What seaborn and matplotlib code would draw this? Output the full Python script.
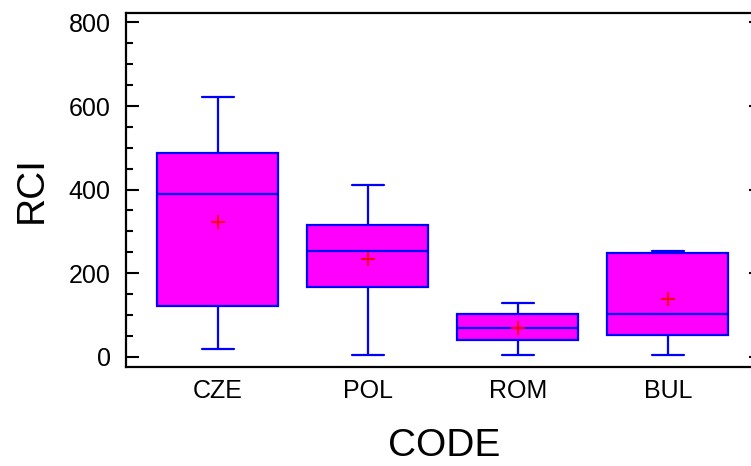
import numpy as np
import pandas as pd
import matplotlib
matplotlib.use("Agg")
import matplotlib.pyplot as plt
import seaborn as sns
from matplotlib.ticker import MultipleLocator

# Summary values (box-and-whisker per country code)
codes = ["CZE", "POL", "ROM", "BUL"]
rci_min = [18, 3, 3, 3]
rci_q1 = [122, 167, 40, 51]
rci_median = [389, 253, 69, 103]
rci_q3 = [487, 315, 103, 248]
rci_max = [621, 410, 129, 252]
rci_mean = [323, 233, 69, 137]

# Five summary points per group reproduce the quartiles exactly (linear percentiles)
rows = []
for i, c in enumerate(codes):
    for v in (rci_min[i], rci_q1[i], rci_median[i], rci_q3[i], rci_max[i]):
        rows.append({"CODE": c, "RCI": v})
df = pd.DataFrame(rows)
means = pd.DataFrame({"CODE": codes, "RCI": rci_mean})

sns.set_style("white")
plt.rcParams["font.family"] = ["Liberation Sans", "DejaVu Sans"]
plt.rcParams["text.color"] = "black"
plt.rcParams["axes.labelcolor"] = "black"
plt.rcParams["xtick.color"] = "black"
plt.rcParams["ytick.color"] = "black"

fig = plt.figure(figsize=(7.51, 4.66), dpi=100)
ax = fig.add_axes([126 / 751, 1 - 366.7 / 466, 636 / 751, 353.4 / 466])

blue = "#0000FF"
sns.boxplot(data=df, x="CODE", y="RCI", order=codes, ax=ax,
            whis=np.inf, width=0.807, color="#FF00FF", saturation=1,
            linecolor=blue, linewidth=1.6, showfliers=False)

# shorten whisker caps
for line in ax.lines:
    xd = line.get_xdata()
    yd = line.get_ydata()
    if len(xd) == 2 and yd[0] == yd[1] and xd[0] != xd[1]:
        w = xd[1] - xd[0]
        if abs(w) < 0.6:
            c = (xd[0] + xd[1]) / 2
            line.set_xdata([c - 0.105, c + 0.105])

sns.scatterplot(data=means, x="CODE", y="RCI", marker="+", color="red",
                s=90, linewidth=1.4, ax=ax, zorder=5)

ax.set_xlim(-0.613, 3.627)
ax.set_ylim(-24, 822)
ax.yaxis.set_major_locator(MultipleLocator(200))
ax.yaxis.set_minor_locator(MultipleLocator(50))

for s in ax.spines.values():
    s.set_color("black")
    s.set_linewidth(1.6)

ax.tick_params(axis="y", which="major", direction="in", length=9.5, width=1.5,
               right=True, left=True, labelsize=18, pad=11)
ax.tick_params(axis="y", which="minor", direction="in", length=5, width=1.5,
               left=True, right=False)
ax.tick_params(axis="x", length=0, labelsize=18, pad=9)

ax.set_xlabel("CODE", fontsize=28, labelpad=18)
ax.set_ylabel("RCI", fontsize=28, labelpad=14)

fig.savefig("out.png", dpi=100)
